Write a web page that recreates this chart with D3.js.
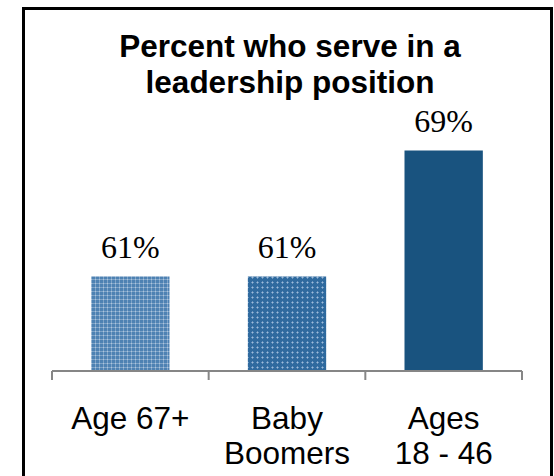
<!DOCTYPE html>
<html>
<head>
<meta charset="utf-8">
<script src="https://cdn.jsdelivr.net/npm/d3@7"></script>
<style>
  html, body { margin: 0; padding: 0; background: #fff; }
  svg { display: block; }
</style>
</head>
<body>
<svg id="chart" width="554" height="476"></svg>
<script>
// Share of each generation serving in a leadership position
const categories = [["Age 67+"], ["Baby", "Boomers"], ["Ages", "18 - 46"]];
const values = [61, 61, 69];
const valueLabels = ["61%", "61%", "69%"];
const titleLines = ["Percent who serve in a", "leadership position"];
const fills = ["url(#gridSmall)", "url(#gridDots)", "#19537f"];

const svg = d3.select("#chart");
const plot = { left: 52, right: 522, top: 56, bottom: 371 };

// Fill patterns for the two older groups
const defs = svg.append("defs");
const p1 = defs.append("pattern").attr("id", "gridSmall")
  .attr("patternUnits", "userSpaceOnUse").attr("width", 4).attr("height", 4);
p1.append("rect").attr("width", 4).attr("height", 4).attr("fill", "#4e82b3");
p1.append("rect").attr("x", 0).attr("y", 3).attr("width", 4).attr("height", 1).attr("fill", "#7fa4c8");
p1.append("rect").attr("x", 3).attr("y", 0).attr("width", 1).attr("height", 4).attr("fill", "#7fa4c8");
p1.append("rect").attr("x", 3).attr("y", 3).attr("width", 1).attr("height", 1).attr("fill", "#aec6de");

const p2 = defs.append("pattern").attr("id", "gridDots")
  .attr("patternUnits", "userSpaceOnUse").attr("width", 5).attr("height", 5);
p2.append("rect").attr("width", 5).attr("height", 5).attr("fill", "#2f6a9e");
p2.append("rect").attr("x", 1).attr("y", 2).attr("width", 3).attr("height", 1).attr("fill", "#6a95c0");
p2.append("rect").attr("x", 2).attr("y", 1).attr("width", 1).attr("height", 3).attr("fill", "#6a95c0");
p2.append("rect").attr("x", 2).attr("y", 2).attr("width", 1).attr("height", 1).attr("fill", "#a0bdd8");

// Frame
svg.append("rect")
  .attr("x", 23.5).attr("y", 8.5)
  .attr("width", 528).attr("height", 480)
  .attr("fill", "#fff").attr("stroke", "#000").attr("stroke-width", 3);

const x = d3.scaleBand()
  .domain(d3.range(values.length))
  .range([plot.left, plot.right])
  .paddingInner(0.5).paddingOuter(0.25);

const y = d3.scaleLinear().domain([55, 75]).range([plot.bottom, plot.top]);

// Title
svg.append("text")
  .attr("text-anchor", "middle")
  .attr("font-family", "Liberation Sans, Arial, sans-serif")
  .attr("font-weight", "bold").attr("font-size", 31.5)
  .selectAll("tspan").data(titleLines).join("tspan")
  .attr("x", 290).attr("y", (d, i) => 57 + i * 36)
  .text(d => d);

// Bars
svg.append("g").selectAll("rect").data(values).join("rect")
  .attr("x", (d, i) => x(i))
  .attr("y", d => y(d))
  .attr("width", x.bandwidth())
  .attr("height", d => y.range()[0] - y(d))
  .attr("fill", (d, i) => fills[i]);

// Value labels
svg.append("g").selectAll("text").data(values).join("text")
  .attr("x", (d, i) => x(i) + x.bandwidth() / 2)
  .attr("y", d => y(d) - 19)
  .attr("text-anchor", "middle")
  .attr("font-family", "Liberation Serif, Times New Roman, serif")
  .attr("font-size", 32)
  .attr("fill", "#000")
  .text((d, i) => valueLabels[i]);

// Category axis with ticks on group boundaries
const axisG = svg.append("g").attr("stroke", "#868686").attr("stroke-width", 2).attr("fill", "none");
axisG.append("line")
  .attr("x1", plot.left).attr("x2", plot.right)
  .attr("y1", plot.bottom).attr("y2", plot.bottom);
const step = x.step();
const boundaries = d3.range(values.length + 1).map(i => plot.left + i * step);
axisG.selectAll("line.tick").data(boundaries).join("line")
  .attr("class", "tick")
  .attr("x1", d => d).attr("x2", d => d)
  .attr("y1", plot.bottom).attr("y2", plot.bottom + 9);

// Category labels
svg.append("g").selectAll("text").data(categories).join("text")
  .attr("text-anchor", "middle")
  .attr("font-family", "Liberation Sans, Arial, sans-serif")
  .attr("font-size", 31.5)
  .attr("fill", "#000")
  .each(function (lines, i) {
    const cx = x(i) + x.bandwidth() / 2;
    d3.select(this).selectAll("tspan").data(lines).join("tspan")
      .attr("x", cx)
      .attr("y", (d, j) => 429 + j * 35)
      .text(d => d);
  });
</script>
</body>
</html>
